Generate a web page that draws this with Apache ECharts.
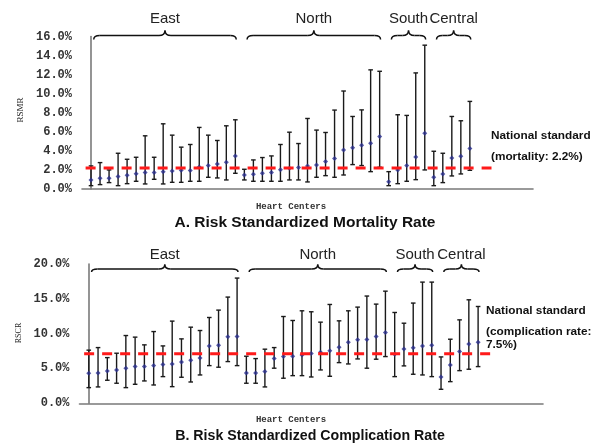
<!DOCTYPE html>
<html>
<head>
<meta charset="utf-8">
<script src="https://cdn.jsdelivr.net/npm/echarts@6/dist/echarts.min.js"></script>
<style>html,body{margin:0;padding:0;background:#fff;}#c{width:598px;height:443px;}</style>
</head>
<body>
<div id="c"></div>
<script>
// ---- data ----
const regionNames = ['East', 'North', 'South', 'Central'];
const regionStart = [0, 17, 33, 38];
const regionEnd = [16, 32, 37, 42];

const mortalityEst = [0.95,1.12,1.12,1.30,1.44,1.61,1.72,1.72,1.82,1.90,1.97,1.93,2.32,2.46,2.63,2.81,3.47,
  1.47,1.54,1.65,1.72,2.03,2.18,2.25,2.42,2.53,2.88,3.19,4.10,4.32,4.60,4.81,5.51,
  0.77,2.00,2.46,3.37,5.86,
  1.23,1.58,3.26,3.44,4.25];
const mortalityLow = [0.35,0.46,0.67,0.35,0.56,0.81,0.53,1.02,0.53,0.70,0.70,0.81,0.81,1.23,1.16,0.95,1.65,
  0.95,0.81,0.81,0.81,0.81,0.95,0.95,0.74,1.23,1.40,1.23,1.47,2.56,2.46,1.82,2.28,
  0.35,0.56,0.81,0.98,2.00,
  0.35,0.67,1.37,1.58,1.96];
const mortalityHigh = [2.42,2.77,2.00,3.75,3.12,3.33,5.58,3.33,6.84,5.65,4.39,4.67,6.46,5.65,5.09,6.63,7.26,
  2.07,3.05,3.30,3.47,4.67,5.96,4.77,7.40,6.18,5.93,8.28,10.28,7.61,8.30,12.50,12.35,
  1.82,7.79,7.72,12.18,15.09,
  3.96,3.75,7.61,7.16,9.19];

const complicationEst = [4.32,4.36,4.65,4.79,5.04,5.27,5.27,5.41,5.56,5.65,5.94,6.19,6.52,8.24,8.35,9.54,9.59,
  4.36,4.36,4.55,6.42,6.71,6.76,6.95,7.14,7.34,7.53,8.06,8.78,9.11,9.16,9.58,10.16,
  7.05,7.81,7.96,8.24,8.35,
  3.78,5.51,7.43,8.53,8.78];
const complicationLow = [2.25,2.35,3.31,2.88,2.25,2.73,3.21,2.63,3.83,2.39,3.74,3.06,4.07,5.41,5.18,5.99,5.41,
  2.88,2.88,2.35,5.04,3.60,3.97,3.97,3.78,4.79,3.88,5.84,5.65,6.37,5.04,6.33,6.71,
  3.83,5.37,4.17,4.07,3.83,
  2.01,3.11,4.69,4.89,5.27];
const complicationHigh = [7.63,8.00,6.56,7.19,9.73,9.50,8.39,10.30,8.24,11.80,9.25,10.93,10.45,12.32,13.38,15.25,17.98,
  6.76,6.42,7.77,8.00,12.46,11.89,13.28,13.14,11.65,14.19,11.84,13.28,13.81,15.40,14.24,16.10,
  13.04,11.50,14.39,17.40,17.40,
  6.66,9.20,11.98,14.86,13.90];

const mortalityStandard = 2.2;      // drawn line
const complicationStandard = 7.1;   // drawn line position
const standardSpanA = [-0.6, 44.4];
const standardSpanB = [-0.5, 43.3];

const yTicksA = {min: 0, max: 16, interval: 2};
const yTicksB = {min: 0, max: 20, interval: 5};

// ---- build ----
const idx = mortalityEst.map((_, i) => i);
const errA = idx.map(i => [i, mortalityLow[i], mortalityHigh[i]]);
const errB = idx.map(i => [i, complicationLow[i], complicationHigh[i]]);
const ptA = idx.map(i => [i, mortalityEst[i]]);
const ptB = idx.map(i => [i, complicationEst[i]]);
const braces = regionNames.map((n, k) => [regionStart[k], regionEnd[k], k]);

function errRender(params, api) {
  const x = api.value(0), lo = api.value(1), hi = api.value(2);
  const a = api.coord([x, lo]), b = api.coord([x, hi]);
  const w = 2.3;
  const st = {stroke: '#1a1a1a', lineWidth: 1.4};
  return {type: 'group', children: [
    {type: 'line', shape: {x1: a[0], y1: a[1], x2: b[0], y2: b[1]}, style: st},
    {type: 'line', shape: {x1: a[0] - w, y1: a[1], x2: a[0] + w, y2: a[1]}, style: st},
    {type: 'line', shape: {x1: b[0] - w, y1: b[1], x2: b[0] + w, y2: b[1]}, style: st}
  ]};
}

function braceRender(yTop, off) {
  return function (params, api) {
    const s = api.value(0) + 0.3, e = api.value(1) + 0.1, k = api.value(2);
    const p1 = api.coord([s, yTop]), p2 = api.coord([e, yTop]);
    const x1 = p1[0], x2 = p2[0], m = (x1 + x2) / 2;
    const yf = p1[1] + off.flat, ye = p1[1] + off.end, yc = p1[1] + off.cusp;
    const r = 6;
    const st = {stroke: '#111', lineWidth: 1.5, fill: null};
    return {type: 'group', children: [
      {type: 'bezierCurve', shape: {x1: x1, y1: ye, cpx1: x1, cpy1: yf, x2: x1 + r, y2: yf}, style: st},
      {type: 'line', shape: {x1: x1 + r, y1: yf, x2: m - r, y2: yf}, style: st},
      {type: 'bezierCurve', shape: {x1: m - r, y1: yf, cpx1: m, cpy1: yf, x2: m, y2: yc}, style: st},
      {type: 'bezierCurve', shape: {x1: m, y1: yc, cpx1: m, cpy1: yf, x2: m + r, y2: yf}, style: st},
      {type: 'line', shape: {x1: m + r, y1: yf, x2: x2 - r, y2: yf}, style: st},
      {type: 'bezierCurve', shape: {x1: x2 - r, y1: yf, cpx1: x2, cpy1: yf, x2: x2, y2: ye}, style: st},
      {type: 'text', x: m, y: p1[1] + off.text, style: {text: regionNames[k], fill: '#222', font: '15px "Liberation Sans", Arial, sans-serif', align: 'center', verticalAlign: 'middle'}}
    ]};
  };
}

const axisLineStyle = {show: true, lineStyle: {color: '#7a7a7a', width: 1.6}};
const tickLabel = {color: '#333', fontFamily: '"Liberation Mono", "Courier New", monospace', fontWeight: 'bold', fontSize: 12, margin: 10,
  formatter: v => v.toFixed(1) + '%'};

function xAx(gi) {
  return {type: 'value', gridIndex: gi, min: -1, max: 49, axisLine: axisLineStyle, axisTick: {show: false}, axisLabel: {show: false}, splitLine: {show: false}};
}
function yAx(gi, t) {
  return {type: 'value', gridIndex: gi, min: t.min, max: t.max, interval: t.interval, axisLine: axisLineStyle, axisTick: {show: false}, splitLine: {show: false}, axisLabel: tickLabel};
}

const pointStyle = {color: '#2b2f8f'};
const redLine = {color: '#ff1a1a', width: 3, type: [10, 8]};
const noteFont = 'bold 11.8px "Liberation Sans", Arial, sans-serif';

const option = {
  backgroundColor: '#fff',
  animation: false,
  grid: [
    {left: 82, top: 36.5, width: 451, height: 152.5},
    {left: 79.5, top: 264, width: 463.5, height: 139.3}
  ],
  xAxis: [xAx(0), xAx(1)],
  yAxis: [yAx(0, yTicksA), yAx(1, yTicksB)],
  series: [
    {type: 'custom', xAxisIndex: 0, yAxisIndex: 0, renderItem: errRender, data: errA, encode: {x: 0, y: [1, 2]}, z: 2},
    {type: 'scatter', xAxisIndex: 0, yAxisIndex: 0, data: ptA, symbol: 'diamond', symbolSize: 5, itemStyle: pointStyle, z: 3},
    {type: 'line', xAxisIndex: 0, yAxisIndex: 0, data: [[standardSpanA[0], mortalityStandard], [standardSpanA[1], mortalityStandard]], symbol: 'none', lineStyle: redLine, z: 4},
    {type: 'custom', xAxisIndex: 0, yAxisIndex: 0, clip: false, renderItem: braceRender(yTicksA.max, {flat: -1, end: 3, cusp: -6, text: -17.5}), data: braces, encode: {x: [0, 1]}, z: 5},

    {type: 'custom', xAxisIndex: 1, yAxisIndex: 1, renderItem: errRender, data: errB, encode: {x: 0, y: [1, 2]}, z: 2},
    {type: 'scatter', xAxisIndex: 1, yAxisIndex: 1, data: ptB, symbol: 'diamond', symbolSize: 5, itemStyle: pointStyle, z: 3},
    {type: 'line', xAxisIndex: 1, yAxisIndex: 1, data: [[standardSpanB[0], complicationStandard], [standardSpanB[1], complicationStandard]], symbol: 'none', lineStyle: redLine, z: 4},
    {type: 'custom', xAxisIndex: 1, yAxisIndex: 1, clip: false, renderItem: braceRender(yTicksB.max, {flat: 5, end: 8, cusp: 0.5, text: -9.5}), data: braces, encode: {x: [0, 1]}, z: 5}
  ],
  graphic: [
    {type: 'text', x: 21, y: 110, rotation: Math.PI / 2, style: {text: 'RSMR', font: '9px "Liberation Serif", serif', fill: '#222', align: 'center', verticalAlign: 'middle'}},
    {type: 'text', x: 19, y: 333, rotation: Math.PI / 2, style: {text: 'RSCR', font: '8px "Liberation Serif", serif', fill: '#222', align: 'center', verticalAlign: 'middle'}},
    {type: 'text', x: 291, y: 207, style: {text: 'Heart Centers', font: 'bold 9px "Liberation Mono", monospace', fill: '#333', align: 'center', verticalAlign: 'middle'}},
    {type: 'text', x: 291, y: 420, style: {text: 'Heart Centers', font: 'bold 9px "Liberation Mono", monospace', fill: '#333', align: 'center', verticalAlign: 'middle'}},
    {type: 'text', x: 305, y: 223, style: {text: 'A. Risk Standardized Mortality Rate', font: 'bold 15.5px "Liberation Sans", Arial, sans-serif', fill: '#111', align: 'center', verticalAlign: 'middle'}},
    {type: 'text', x: 310, y: 436, style: {text: 'B. Risk Standardized Complication Rate', font: 'bold 14.2px "Liberation Sans", Arial, sans-serif', fill: '#111', align: 'center', verticalAlign: 'middle'}},
    {type: 'text', x: 491, y: 136, style: {text: 'National standard', font: noteFont, fill: '#111', align: 'left', verticalAlign: 'middle'}},
    {type: 'text', x: 491, y: 157, style: {text: '(mortality: 2.2%)', font: noteFont, fill: '#111', align: 'left', verticalAlign: 'middle'}},
    {type: 'text', x: 486, y: 311, style: {text: 'National standard', font: noteFont, fill: '#111', align: 'left', verticalAlign: 'middle'}},
    {type: 'text', x: 486, y: 332, style: {text: '(complication rate:', font: noteFont, fill: '#111', align: 'left', verticalAlign: 'middle'}},
    {type: 'text', x: 486, y: 345, style: {text: '7.5%)', font: noteFont, fill: '#111', align: 'left', verticalAlign: 'middle'}}
  ]
};

const chart = echarts.init(document.getElementById('c'), null, {renderer: 'canvas'});
chart.setOption(option);
</script>
</body>
</html>
